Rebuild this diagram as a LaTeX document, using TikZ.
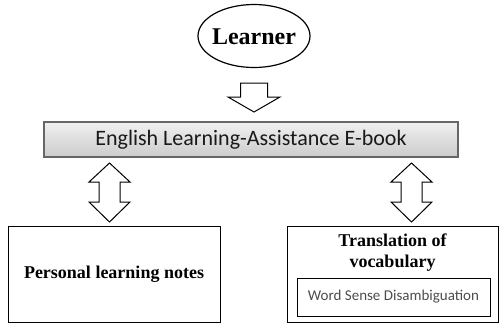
\documentclass[tikz,border=0pt]{standalone}
\usepackage{fontspec}
\setmainfont{Liberation Serif}
\newfontfamily\calibri{Carlito}
\usetikzlibrary{shapes.geometric, positioning}

\begin{document}
\begin{tikzpicture}[x = 1pt, y = -1pt]

	\tikzset{
		box/.style = {draw, line width = 1pt, minimum width = 212pt, minimum height = 96pt, inner sep = 0pt},
		hollow/.style = {draw, line width = 1pt, line join = miter, fill = white}
	}

	\useasboundingbox (0, 0) rectangle (501, 325);

	% Learner and e-book

	\node [font = \fontsize{24}{26}\selectfont\bfseries] (learner) at (254, 37) {Learner};
	\draw [line width = 1.2pt] (254, 36) ellipse (56 and 31.5);

	\node [draw = black!60, line width = 2pt, top color = black!6, bottom color = black!20,
		minimum width = 414pt, minimum height = 35pt, inner sep = 0pt, text = black!90,
		font = \calibri\fontsize{22}{24}\selectfont] (ebook) at (251, 139.5) {English Learning-Assistance E-book};

	% Bottom boxes

	\node [box, font = \fontsize{18}{20}\selectfont\bfseries] (notes) at (114, 274) {Personal learning notes};

	\node [box, minimum width = 211pt] (trans) at (392.5, 274) {};
	\node [align = center, font = \fontsize{18}{21}\selectfont\bfseries, below = 5pt of trans.north] (transtext) {Translation of\\vocabulary};
	\node [draw, line width = 1pt, minimum width = 193pt, minimum height = 38pt, inner sep = 0pt,
		font = \calibri\fontsize{15}{17}\selectfont, text = black!70] (wsd) at (393.5, 297) {Word Sense Disambiguation};

	% Hollow arrows

	\begin{scope}[shift = {(254, 83)}]
		\draw [hollow] (-13.5, 0) -- (13.5, 0) -- (13.5, 14) -- (26, 14) -- (0, 29)
			-- (-26, 14) -- (-13.5, 14) -- cycle;
	\end{scope}

	\foreach \name/\x in {left/109.5, right/411.5} {
		\begin{scope}[shift = {(\x, 163)}]
			\draw [hollow] (0, 0) -- (20.5, 19) -- (10.5, 19) -- (10.5, 39) -- (20.5, 39) -- (0, 59)
				-- (-20.5, 39) -- (-10.5, 39) -- (-10.5, 19) -- (-20.5, 19) -- cycle;
		\end{scope}
	}

\end{tikzpicture}
\end{document}
